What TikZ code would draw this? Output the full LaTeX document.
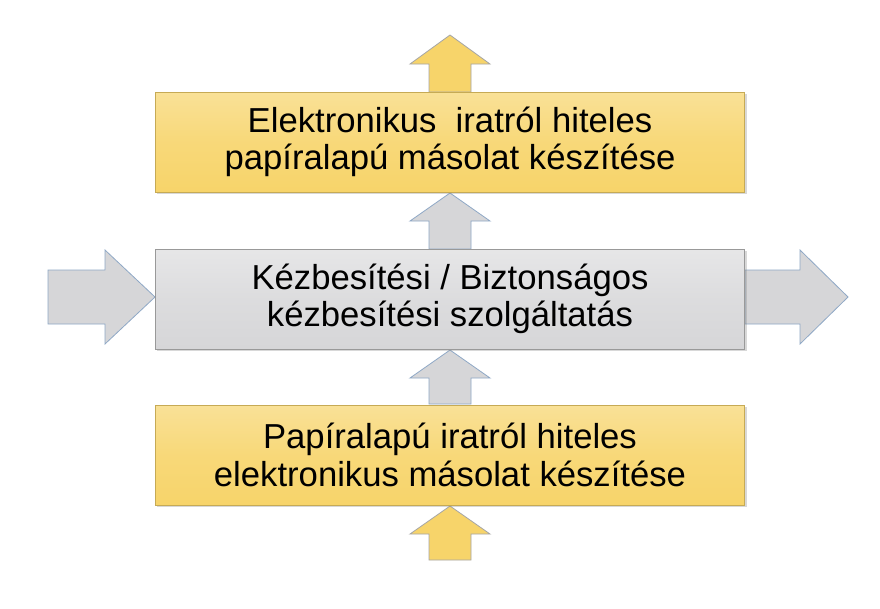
\documentclass[tikz,border=0pt]{standalone}
\usepackage{fontspec}
\setmainfont{Liberation Sans}
\usetikzlibrary{positioning,shadows}
\definecolor{boxyellow}{HTML}{F7D46A}
\definecolor{boxgray}{HTML}{D6D6D8}
\definecolor{rimblue}{HTML}{8FA8C6}
\tikzset{
    ybox/.style={draw=boxyellow!80!black,top color=boxyellow!70!white,bottom color=boxyellow,middle color=boxyellow!90!white,
                 minimum width=442pt,minimum height=75pt,align=center,font=\fontsize{26}{28}\selectfont,
                 drop shadow={shadow xshift=1.5pt,shadow yshift=-1.5pt,opacity=0.3}},
    gbox/.style={ybox,draw=gray!80,top color=boxgray!60!white,bottom color=boxgray,middle color=boxgray!85!white},
    yarr/.style={fill=boxyellow,draw=gray!70,line width=0.6pt},
    garr/.style={fill=boxgray,draw=rimblue,line width=0.6pt},
}
% up arrow: x centre, tip y, head base y, bottom y
\newcommand{\uparr}[5]{%
  \draw[#1] (#2-21,#5) -- (#2-21,#4) -- (#2-40,#4) -- (#2,#3) -- (#2+40,#4) -- (#2+21,#4) -- (#2+21,#5) -- cycle;}
% right arrow: left x, head x, tip x, centre y
\newcommand{\rtarr}[5]{%
  \draw[#1] (#2,#5-27) -- (#3,#5-27) -- (#3,#5-47) -- (#4,#5) -- (#3,#5+47) -- (#3,#5+27) -- (#2,#5+27) -- cycle;}
\begin{document}
\begin{tikzpicture}[x=0.75pt,y=-0.75pt]
\useasboundingbox (0,0) rectangle (880,608);
\fill[white] (0,0) rectangle (880,608);
% arrows
\uparr{yarr}{450}{35}{64}{92}
\uparr{garr}{450}{193}{221}{249}
\uparr{garr}{450}{350}{378}{404}
\uparr{yarr}{450}{506}{534}{560}
\rtarr{garr}{48}{105}{155}{297}
\rtarr{garr}{745}{800}{848}{297}
% boxes
\node[ybox] (paper) at (450,142) {Elektronikus\ \ iratról hiteles\\papíralapú másolat készítése};
\node[gbox] (delivery) at (450,299) {Kézbesítési / Biztonságos\\kézbesítési szolgáltatás};
\node[ybox] (scan) at (450,455) {Papíralapú iratról hiteles\\elektronikus másolat készítése};
\end{tikzpicture}
\end{document}
